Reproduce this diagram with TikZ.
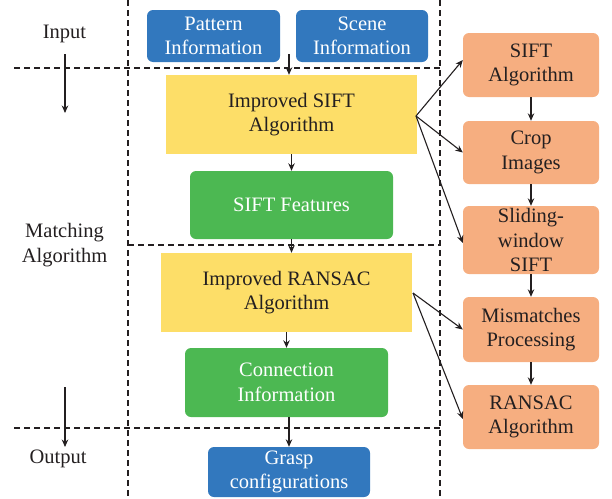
\documentclass[tikz,border=0pt]{standalone}
\usepackage{fontspec}
\setmainfont{Liberation Serif}
\usetikzlibrary{arrows.meta}
\definecolor{cblue}{HTML}{3278BE}
\definecolor{cyellow}{HTML}{FDDE68}
\definecolor{cgreen}{HTML}{4CB852}
\definecolor{corange}{HTML}{F6AE80}
\definecolor{ctext}{HTML}{231F20}
\tikzset{
  base/.style={align=center, inner sep=0pt, font=\fontsize{20.5}{24.5}\selectfont},
  bluebox/.style={base, fill=cblue, text=white, rounded corners=6pt},
  yellowbox/.style={base, fill=cyellow, text=ctext},
  greenbox/.style={base, fill=cgreen, text=white, rounded corners=6pt},
  orangebox/.style={base, fill=corange, text=ctext, rounded corners=6pt, minimum width=136pt},
  lbl/.style={base, text=ctext},
  sep/.style={draw=ctext, line width=1.1pt, dash pattern=on 6pt off 4pt},
  arr/.style={draw=ctext, line width=1.1pt, -{Stealth[length=7.5pt,width=6.5pt]}},
}
\begin{document}
\begin{tikzpicture}[x=1pt,y=-1pt]
\useasboundingbox (0,0) rectangle (612,498);
% separators
\draw[sep] (128,0) -- (128,498);
\draw[sep] (440,0) -- (440,498);
\draw[sep] (14,68) -- (440,68);
\draw[sep] (128,245) -- (440,245);
\draw[sep] (14,428) -- (440,428);
% left labels
\node[lbl] (input) at (64.5,34) {Input};
\node[lbl] (matching) at (64.5,245) {Matching\\Algorithm};
\node[lbl] (output) at (58,459) {Output};
\coordinate (ia) at (65,54);
\coordinate (ib) at (65,113);
\coordinate (oa) at (65,387);
\coordinate (ob) at (65,447);
\draw[arr] (ia) -- (ib);
\draw[arr] (oa) -- (ob);
% center column
\node[bluebox, minimum width=133pt, minimum height=52pt] (pattern) at (213.5,36) {Pattern\\Information};
\node[bluebox, minimum width=132pt, minimum height=52pt] (scene) at (362,36) {Scene\\Information};
\node[yellowbox, minimum width=251pt, minimum height=79pt] (isift) at (291.5,114.5) {Improved SIFT\\Algorithm};
\node[greenbox, minimum width=203pt, minimum height=68pt] (siftf) at (291.5,205) {SIFT Features};
\node[yellowbox, minimum width=251pt, minimum height=79pt] (iransac) at (286.5,292.5) {Improved RANSAC\\Algorithm};
\node[greenbox, minimum width=203pt, minimum height=69pt] (conn) at (286.5,382.5) {Connection\\Information};
\node[bluebox, minimum width=162pt, minimum height=50pt] (grasp) at (289,472) {Grasp\\configurations};
\coordinate (inp) at (289,54);
\draw[arr] (inp) -- (isift.north -| inp);
\draw[arr] (isift.south) -- (siftf.north);
\draw[arr] (siftf.south -| isift.south) -- (iransac.north -| isift.south);
\draw[arr] (iransac.south) -- (conn.north);
\draw[arr] (conn.south -| 289,0) -- (grasp.north);
% right column
\node[orangebox, minimum height=64pt] (sa) at (531,65) {SIFT\\Algorithm};
\node[orangebox, minimum height=63pt] (ci) at (531,152.5) {Crop\\Images};
\node[orangebox, minimum height=68pt] (sw) at (531,240) {Sliding-\\window\\SIFT};
\node[orangebox, minimum height=65pt] (mp) at (531,329.5) {Mismatches\\Processing};
\node[orangebox, minimum height=64pt] (ra) at (531,417) {RANSAC\\Algorithm};
\draw[arr] (sa) -- (ci);
\draw[arr] (ci) -- (sw);
\draw[arr] (sw) -- (mp);
\draw[arr] (mp) -- (ra);
\coordinate (se) at (416,116);
\coordinate (re) at (413,293);
\draw[arr] (se) -- ([yshift=5pt]sa.west);
\draw[arr] (se) -- (ci.west);
\draw[arr] (se) -- ([yshift=-3pt]sw.west);
\draw[arr] (re) -- (mp.west);
\draw[arr] (re) -- ([yshift=-2pt]ra.west);
\end{tikzpicture}
\end{document}
